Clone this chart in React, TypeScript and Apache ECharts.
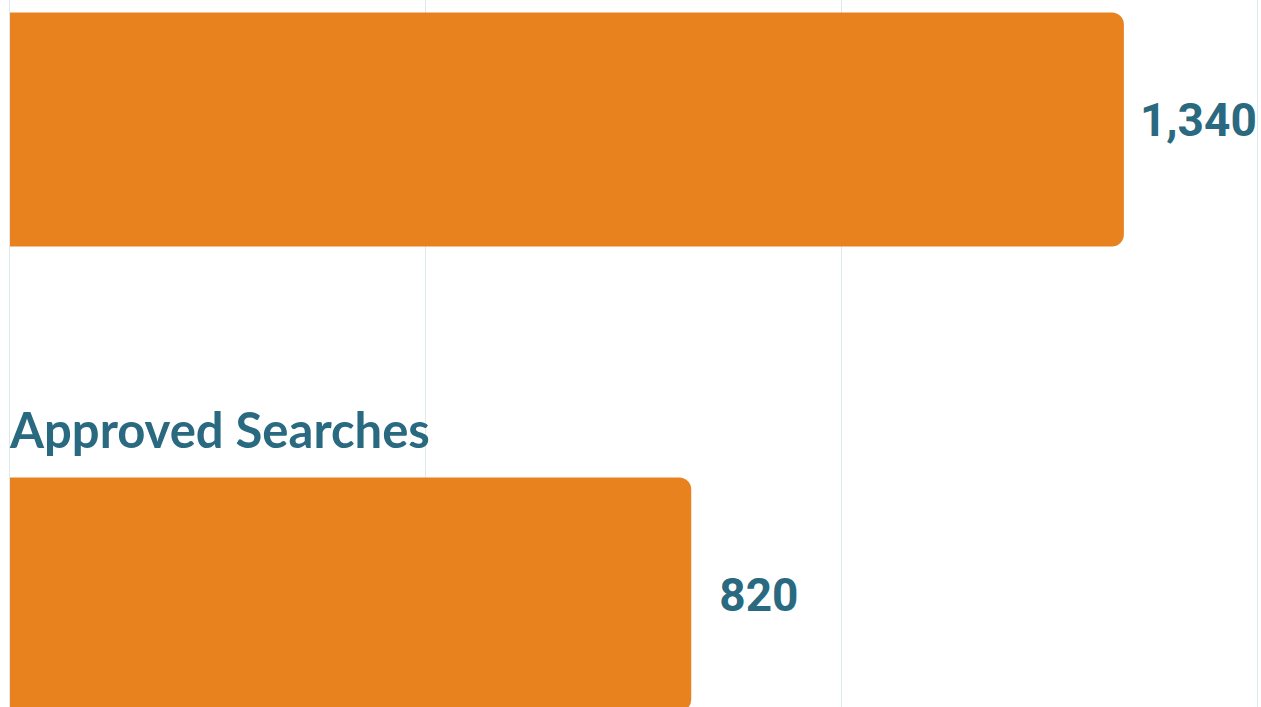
import React, { useEffect, useRef } from "react";
import * as echarts from "echarts";

const categories = ["Total Searches", "Approved Searches"];
const values = [1340, 820];
const labelDistances = [16, 28];
const labelOffsetsY = [-10, 0];
const xTicks = [0, 500, 1000, 1500];

const ORANGE = "#E8821F";
const TEAL = "#2A6A80";
const GRID = "#dfe8ec";

export default function App() {
  const ref = useRef<HTMLDivElement>(null);
  useEffect(() => {
    if (!ref.current) return;
    const chart = echarts.init(ref.current, undefined, { renderer: "svg" });
    chart.setOption({
      animation: false,
      grid: { left: 0, right: 1, top: 0, bottom: 40, containLabel: false },
      xAxis: {
        type: "value",
        min: xTicks[0],
        max: xTicks[xTicks.length - 1],
        interval: xTicks[1] - xTicks[0],
        axisLabel: { show: false },
        axisLine: { show: false },
        axisTick: { show: false },
        splitLine: { show: true, lineStyle: { color: GRID, width: 1 } },
      },
      yAxis: {
        type: "category",
        data: categories,
        inverse: true,
        axisLine: { show: true, lineStyle: { color: GRID, width: 1 } },
        axisTick: { show: false },
        axisLabel: {
          inside: true,
          margin: 1,
          interval: (i: number) => i !== 0,
          color: TEAL,
          fontFamily: "Lato",
          fontWeight: 700,
          fontSize: 49,
          verticalAlign: "bottom",
          align: "left",
          padding: [0, 0, 141, 0],
        },
        z: 10,
      },
      series: [
        {
          type: "bar",
          barWidth: 234,
          data: values.map((v, i) => ({
            value: v,
            label: { distance: labelDistances[i], offset: [0, labelOffsetsY[i]] },
          })),
          itemStyle: { color: ORANGE, borderRadius: [0, 12, 12, 0] },
          label: {
            show: true,
            position: "right",
            color: TEAL,
            fontFamily: "Roboto",
            fontWeight: 700,
            fontSize: 46,
            formatter: (p: any) => Number(p.value).toLocaleString("en-US"),
          },
        },
      ],
    });
    return () => chart.dispose();
  }, []);
  return (
    <div style={{ position: "fixed", left: 0, top: 0, width: 1261, height: 707, overflow: "hidden", background: "#fff" }}>
      <div ref={ref} style={{ position: "absolute", left: 7, top: -103, width: 1251, height: 970 }} />
    </div>
  );
}
